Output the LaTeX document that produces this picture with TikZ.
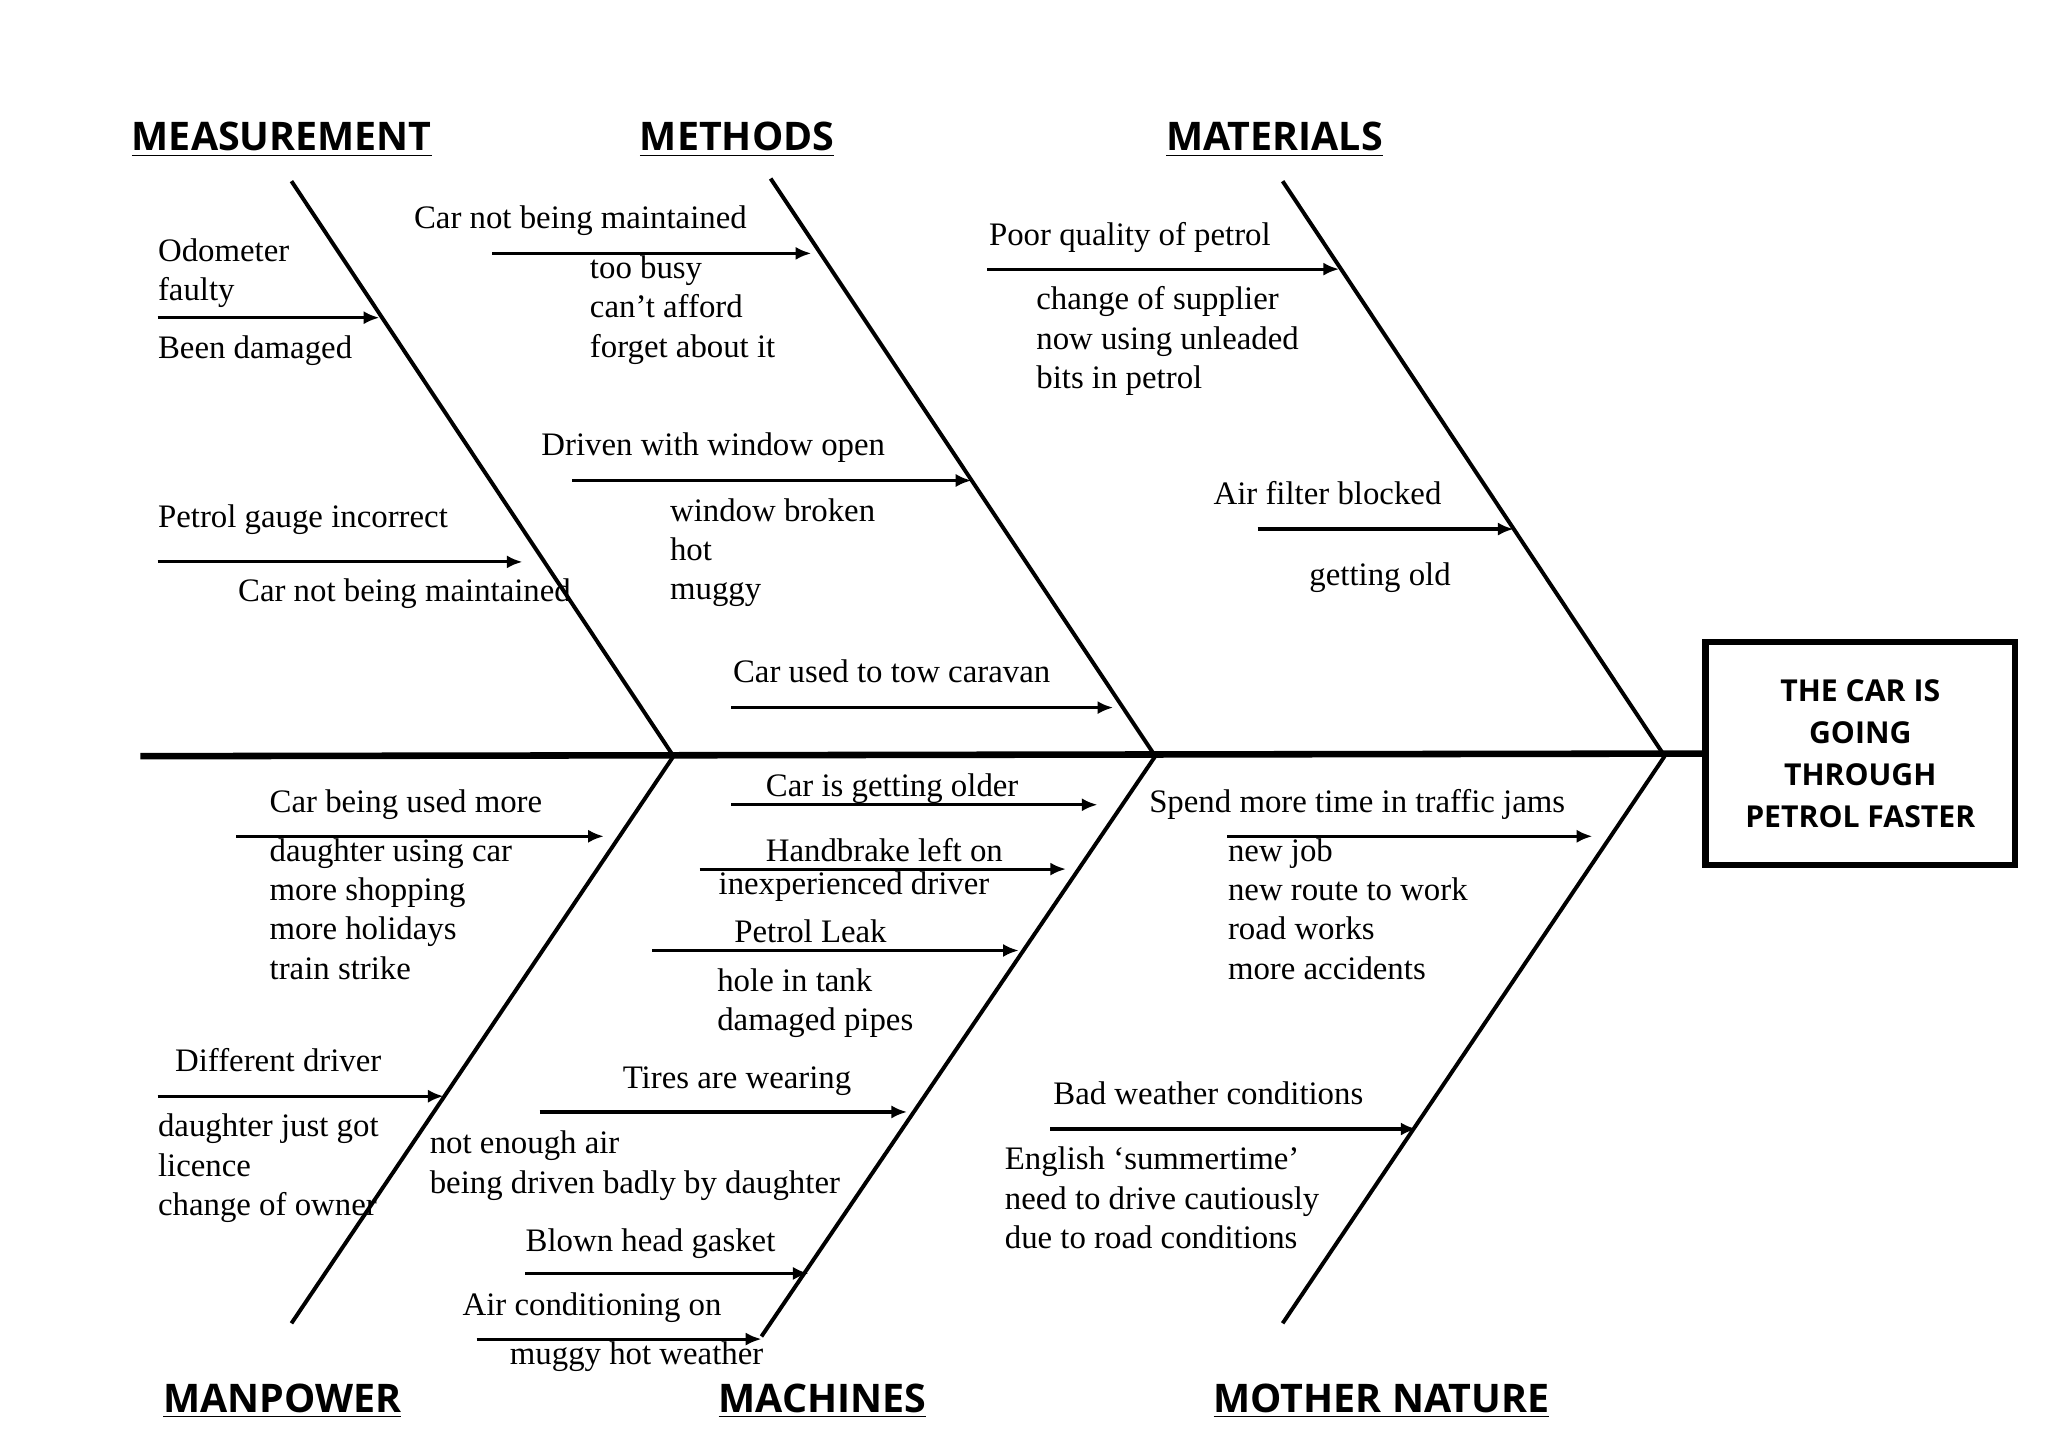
\documentclass[tikz,border=0pt]{standalone}
\usepackage{fontspec}
\setmainfont{Liberation Serif}
\newfontfamily\hd{Open Sans}
\usetikzlibrary{arrows.meta}
\begin{document}
\begin{tikzpicture}[x=0.5pt,y=-0.5pt,
 bone/.style={line width=1.5pt},
 arr/.style={line width=1.2pt,-{Latex[length=6pt,width=5pt]}},
 t/.style={anchor=base west,inner sep=0pt,font=\fontsize{12.5}{14}\selectfont},
 h/.style={anchor=base west,inner sep=0pt,font=\hd\bfseries\fontsize{15}{18}\selectfont}]
\useasboundingbox (0,0) rectangle (1560,1102);
% spine and box
\node[draw,line width=2.5pt,minimum width=118pt,minimum height=85pt,inner sep=0pt,align=center,font=\hd\bfseries\fontsize{11.5}{16}\selectfont] (eff) at (1417,574) {THE CAR IS\\GOING\\THROUGH\\PETROL FASTER};
\coordinate (tail) at (107,576);
\draw[line width=2.5pt] (tail) -- (eff.west);
% bones
\coordinate (j1) at (513,576); \coordinate (j2) at (880,576); \coordinate (j3) at (1268,576);
\coordinate (u1) at (222,138); \coordinate (u2) at (587,136); \coordinate (u3) at (977,138);
\coordinate (l1) at (222,1008); \coordinate (l2) at (580,1018); \coordinate (l3) at (977,1008);
\draw[bone] (u1)--(j1) (u2)--(j2) (u3)--(j3) (l1)--(j1) (l2)--(j2) (l3)--(j3);
% headings
\node[h] (hm1) at (100,115) {\underline{MEASUREMENT}};
\node[h] (hm2) at (487,115) {\underline{METHODS}};
\node[h] (hm3) at (888,115) {\underline{MATERIALS}};
\node[h] (hm4) at (124,1076) {\underline{MANPOWER}};
\node[h] (hm5) at (547,1076) {\underline{MACHINES}};
\node[h] (hm6) at (924,1076) {\underline{MOTHER NATURE}};
% arrows
\foreach \n/\a/\b/\y in {a1/120/289/242,a2/120/398/428,a3/375/618/193,a4/436/740/366,a5/557/848/539,
 a6/752/1020/205,a7/958/1153/403,a8/180/460/637,a9/120/338/835,a10/557/836/613,a11/533/812/662,
 a12/497/776/724,a13/411/691/847,a14/400/616/970,a15/363/580/1020,a16/935/1213/637,a17/800/1079/860}{
 \coordinate (\n s) at (\a,\y); \coordinate (\n e) at (\b,\y);
 \draw[arr] (\n s) -- (\n e);}
% texts
\foreach \x/\y/\s [count=\i] in {
120/199/Odometer,120/229/faulty,120/273/Been damaged,
120/402/Petrol gauge incorrect,181/458/Car not being maintained,
315/174/Car not being maintained,449/212/too busy,449/242/can’t afford,449/272/forget about it,
412/347/Driven with window open,510/397/window broken,510/427/hot,510/457/muggy,
558/520/Car used to tow caravan,
753/187/Poor quality of petrol,789/236/change of supplier,789/266/now using unleaded,789/296/bits in petrol,
924/384/Air filter blocked,997/446/getting old,
205/619/Car being used more,205/656/daughter using car,205/686/more shopping,205/716/more holidays,205/746/train strike,
133/816/Different driver,120/866/daughter just got,120/896/licence,120/926/change of owner,
583/607/Car is getting older,583/656/Handbrake left on,547/681/inexperienced driver,559/718/Petrol Leak,
546/755/hole in tank,546/785/damaged pipes,474/829/Tires are wearing,327/879/not enough air,
327/909/being driven badly by daughter,400/953/Blown head gasket,352/1002/Air conditioning on,388/1039/muggy hot weather,
875/619/Spend more time in traffic jams,935/656/new job,935/686/new route to work,935/716/road works,935/746/more accidents,
802/841/Bad weather conditions,765/891/English ‘summertime’,765/921/need to drive cautiously,765/951/due to road conditions}{
 \node[t] (t\i) at (\x,\y) {\s};}
\end{tikzpicture}
\end{document}
